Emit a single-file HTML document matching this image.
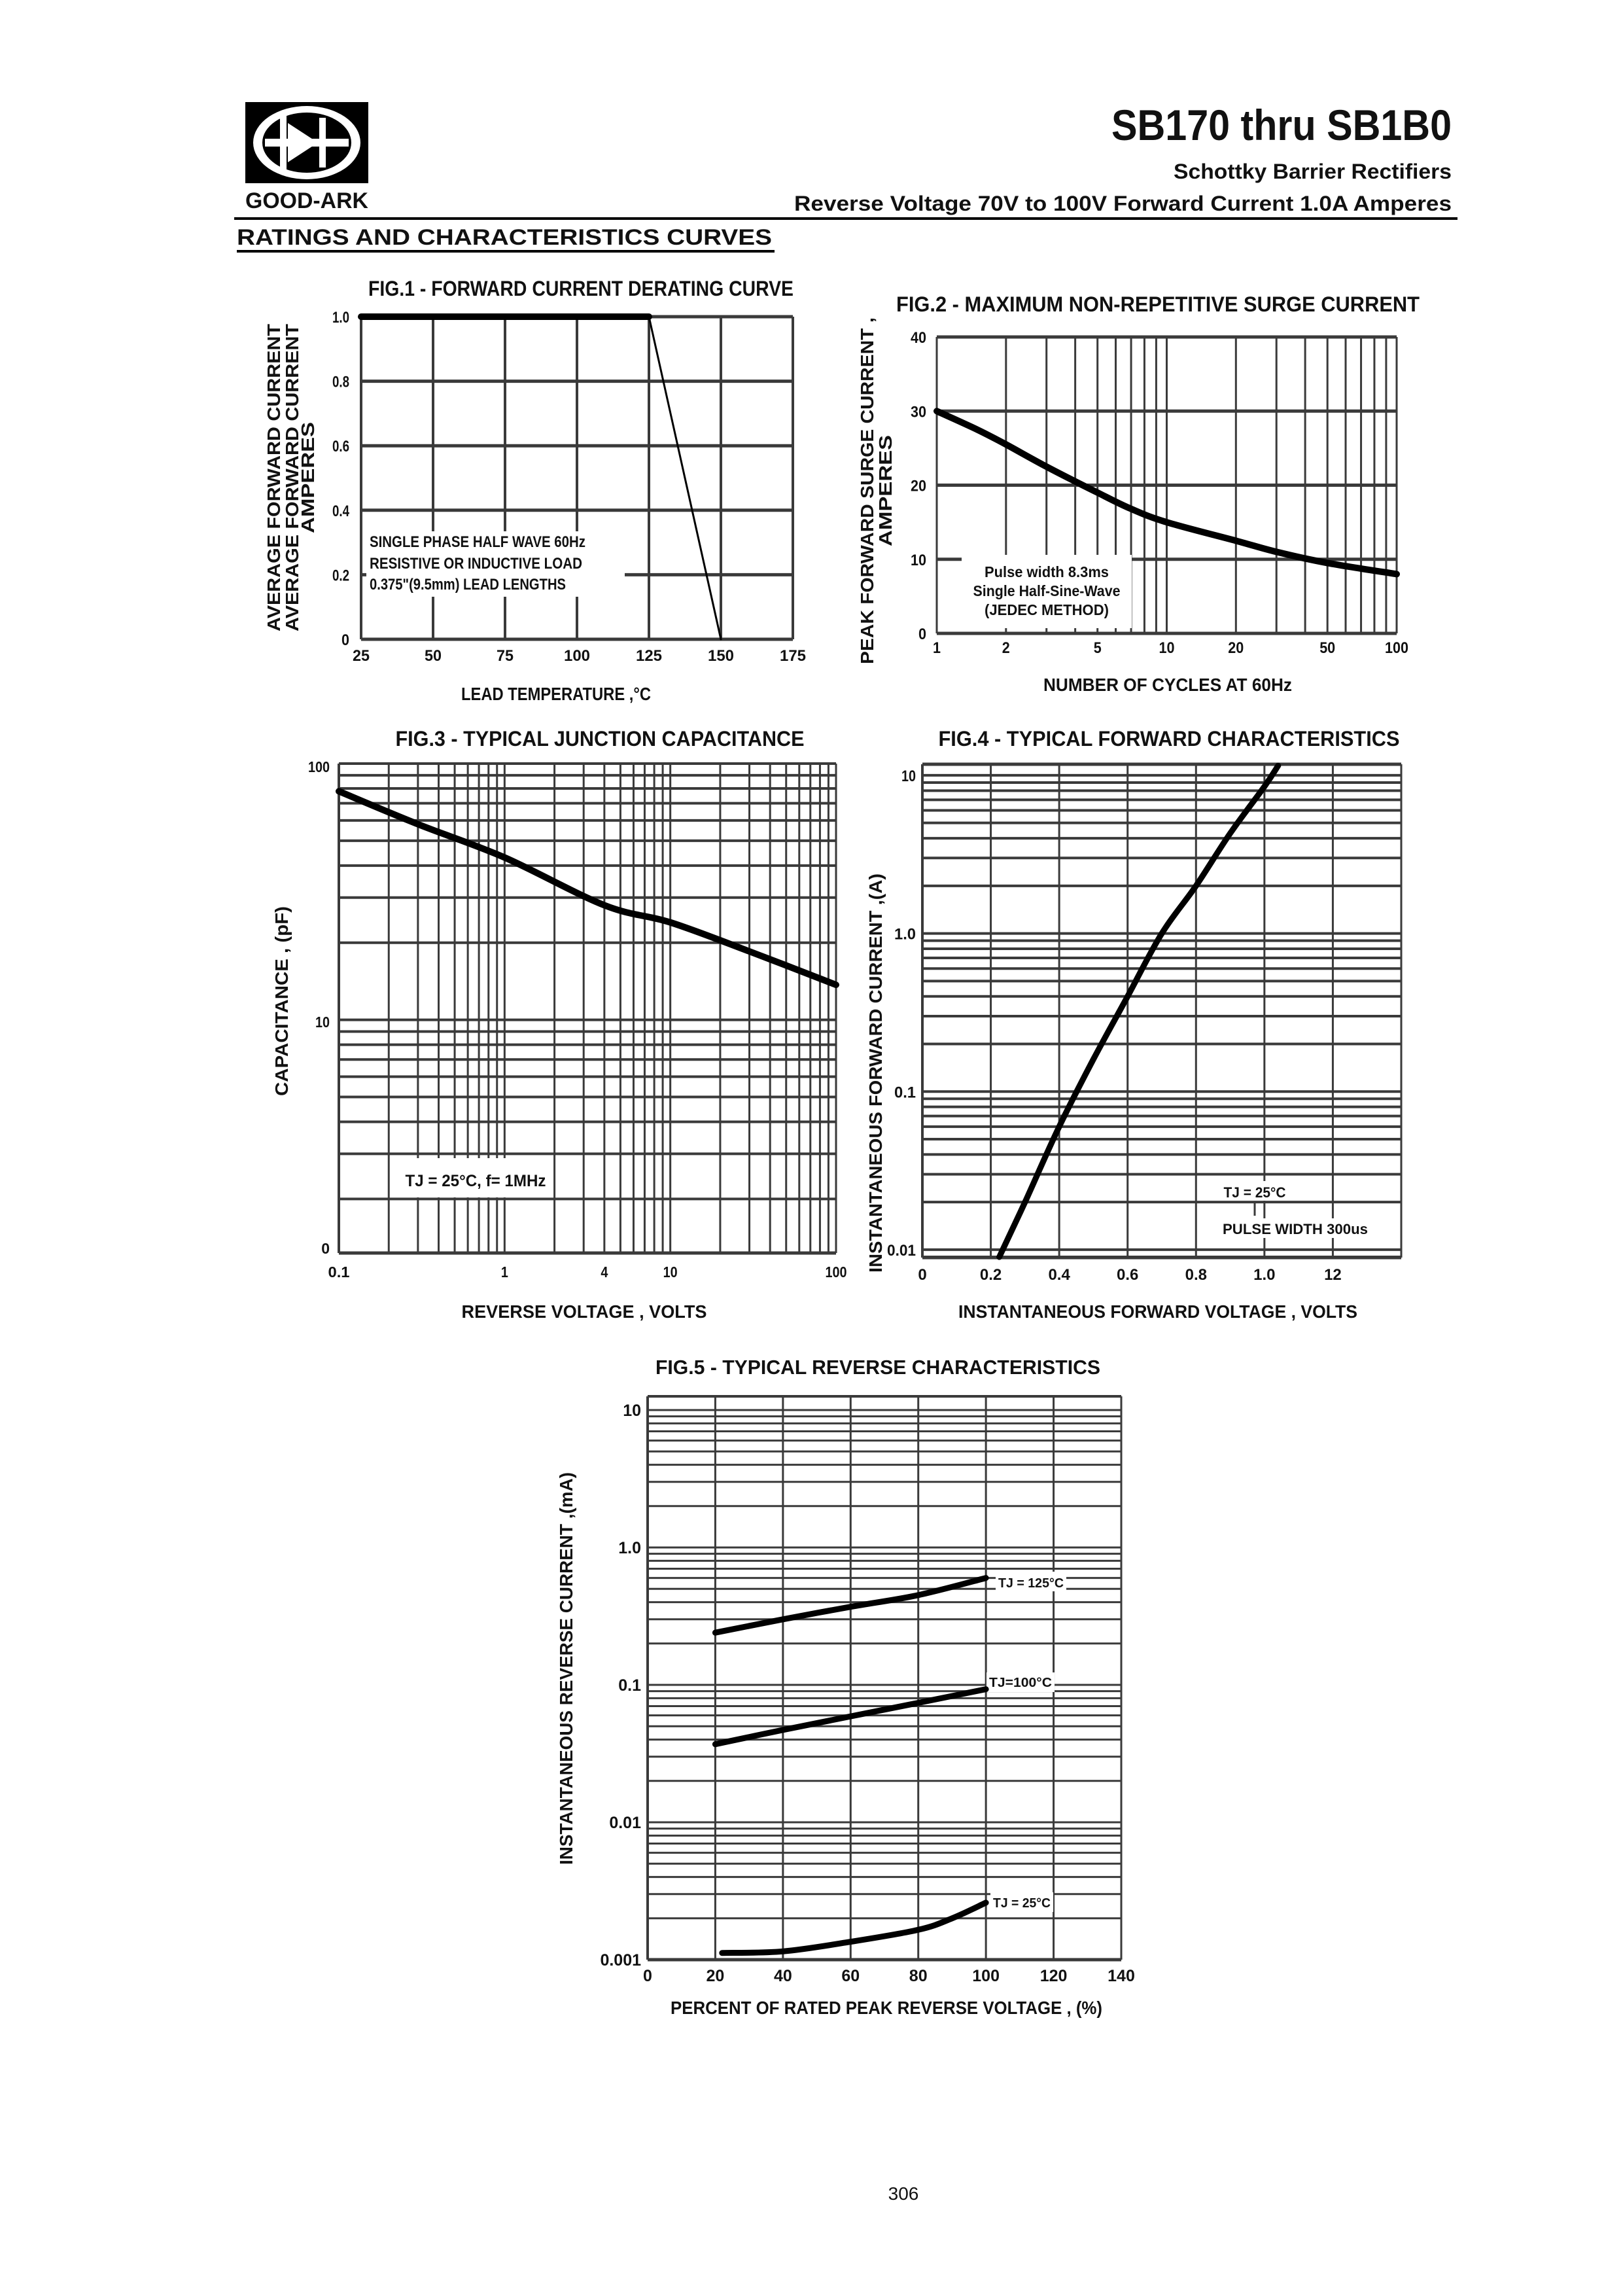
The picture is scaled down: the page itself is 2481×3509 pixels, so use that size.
<!DOCTYPE html>
<html><head><meta charset="utf-8"><style>
html,body{margin:0;padding:0;background:#fff}
svg{display:block}
text{font-family:"Liberation Sans",sans-serif;fill:#111}
</style></head><body>
<svg id="page" xmlns="http://www.w3.org/2000/svg" width="2481" height="3509" viewBox="0 0 2481 3509">
<rect width="2481" height="3509" fill="#fff"/>
<g>
<rect x="375" y="156" width="188" height="124" fill="#000"/>
<ellipse cx="469" cy="218" rx="82" ry="56" fill="#fff"/>
<ellipse cx="469" cy="218" rx="68" ry="46" fill="#000"/>
<rect x="405" y="212" width="128" height="12" fill="#fff"/>
<polygon points="440,188 440,248 486,218" fill="#fff"/>
<rect x="488" y="180" width="10" height="76" fill="#fff"/>
<rect x="428" y="172" width="10" height="92" fill="#fff"/>
</g>
<text x="375" y="318" font-size="34" font-weight="bold" textLength="188" lengthAdjust="spacingAndGlyphs">GOOD-ARK</text>
<text x="2219" y="214" font-size="66" font-weight="bold" text-anchor="end" textLength="520" lengthAdjust="spacingAndGlyphs">SB170 thru SB1B0</text>
<text x="2219" y="273" font-size="32" font-weight="bold" text-anchor="end" textLength="425" lengthAdjust="spacingAndGlyphs">Schottky Barrier Rectifiers</text>
<text x="2219" y="322" font-size="32" font-weight="bold" text-anchor="end" textLength="1005" lengthAdjust="spacingAndGlyphs">Reverse Voltage 70V to 100V   Forward Current 1.0A Amperes</text>
<rect x="358" y="332" width="1870" height="4" fill="#000"/>
<text x="362" y="374" font-size="34" font-weight="bold" textLength="818" lengthAdjust="spacingAndGlyphs">RATINGS AND CHARACTERISTICS CURVES</text>
<rect x="362" y="382" width="822" height="4" fill="#000"/>
<text x="1381" y="3362" font-size="28" text-anchor="middle">306</text>
<g id="charts"></g>
</svg>
<script>
// FIG1 data
const f1Temp=[25,125,150];
const f1Curr=[1.0,1.0,0];
const f1XTicks=[25,50,75,100,125,150,175];
const f1YTicks=[0,0.2,0.4,0.6,0.8,1.0];
const f1YLabels=["0","0.2","0.4","0.6","0.8","1.0"];
// FIG2 data
const f2Cycles=[1,1.5,2,3,5,7,10,20,30,50,100];
const f2Surge=[30,27.5,25.5,22.5,19,16.8,15,12.5,11,9.5,8];
const f2XTicks=[1,2,5,10,20,50,100];
const f2YTicks=[0,10,20,30,40];
// FIG3 data
const f3Volt=[0.1,0.3,1,4,10,30,100];
const f3Cap=[78,58,43,28,24,18.5,13.7];
const f3XTicks=[0.1,1,4,10,100];
// FIG4 data
const f4Volt=[0.225,0.3,0.4,0.5,0.6,0.7,0.8,0.9,1.0,1.04];
const f4Curr=[0.009,0.02,0.06,0.16,0.4,1.0,2.0,4.3,8.5,11.5];
const f4XTicks=[0,0.2,0.4,0.6,0.8,1.0,1.2];
const f4XLabels=["0","0.2","0.4","0.6","0.8","1.0","12"];
const f4YTicks=[0.01,0.1,1,10];
const f4YLabels=["0.01","0.1","1.0","10"];
// FIG5 data
const f5Pct=[20,40,60,80,100];
const f5T125=[0.24,0.3,0.37,0.45,0.6];
const f5T100=[0.037,0.047,0.059,0.074,0.093];
const f5Pct25=[22,40,60,80,90,100];
const f5T25=[0.00112,0.00115,0.00135,0.00165,0.002,0.0026];
const f5XTicks=[0,20,40,60,80,100,120,140];
const f5YTicks=[0.001,0.01,0.1,1,10];
const f5YLabels=["0.001","0.01","0.1","1.0","10"];

const NS="http://www.w3.org/2000/svg";
const root=document.getElementById('charts');
function mk(tag,attrs,parent){const e=document.createElementNS(NS,tag);for(const k in attrs)e.setAttribute(k,attrs[k]);(parent||root).appendChild(e);return e;}
function lin(d0,d1,r0,r1){return v=>r0+(v-d0)/(d1-d0)*(r1-r0);}
function lg(d0,d1,r0,r1){return v=>r0+(Math.log10(v)-Math.log10(d0))/(Math.log10(d1)-Math.log10(d0))*(r1-r0);}
const GRID="#3a3a3a";
function line(g,x1,y1,x2,y2,w,name){const l=mk('line',{x1,y1,x2,y2,stroke:GRID,'stroke-width':w},g);

return l;}
function txt(g,x,y,s,size,name,anchor,extra){const t=mk('text',Object.assign({x,y,'font-size':size,'font-weight':'bold','text-anchor':anchor||'middle'},extra||{}),g);t.textContent=s;

return t;}
function curve(g,xs,ys,X,Y,w,name,smooth){const P=xs.map((v,i)=>[X(v),Y(ys[i])]);let d='M'+P[0][0].toFixed(1)+','+P[0][1].toFixed(1);
for(let i=0;i<P.length-1;i++){if(!smooth){d+='L'+P[i+1][0].toFixed(1)+','+P[i+1][1].toFixed(1);continue;}
const p0=P[i-1]||P[i],p1=P[i],p2=P[i+1],p3=P[i+2]||P[i+1];
const c1=[p1[0]+(p2[0]-p0[0])/6,p1[1]+(p2[1]-p0[1])/6],c2=[p2[0]-(p3[0]-p1[0])/6,p2[1]-(p3[1]-p1[1])/6];
d+=`C${c1[0].toFixed(1)},${c1[1].toFixed(1)} ${c2[0].toFixed(1)},${c2[1].toFixed(1)} ${p2[0].toFixed(1)},${p2[1].toFixed(1)}`;}
const p=mk('path',{d,fill:'none',stroke:'#000','stroke-width':w,'stroke-linejoin':'round','stroke-linecap':'round'},g);

return p;}
function group(name){const g=mk('g',{});

return g;}
function logMinor(d0,d1){const out=[];for(let e=-4;e<=3;e++)for(let m=1;m<=9;m++){const v=m*Math.pow(10,e);if(v>=d0*0.999&&v<=d1*1.001)out.push(v);}return out;}

// ---------- FIG1 ----------
(function(){const g=group('fig1-derating-chart');
const L=552,R=1212,T=484,B=977;
const X=lin(25,175,L,R),Y=lin(0,1,B,T);
f1XTicks.forEach(v=>{line(g,X(v),T,X(v),B,4,'fig1-x-grid');txt(g,X(v),1010,String(v),24,'fig1-x-tick','middle',{textLength:v>=100?40:26,lengthAdjust:'spacingAndGlyphs'});});
f1YTicks.forEach((v,i)=>{line(g,L,Y(v),R,Y(v),5,'fig1-y-grid');txt(g,L-18,Y(v)+9,f1YLabels[i],24,'fig1-y-tick','end',{textLength:f1YLabels[i].length>1?26:12,lengthAdjust:'spacingAndGlyphs'});});
line(g,X(125),Y(0.2),X(125),B,3,'fig1-marker-line');
const r=mk('rect',{x:560,y:812,width:395,height:100,fill:'#fff'},g);


txt(g,565,836,'SINGLE PHASE HALF WAVE 60Hz',24,'fig1-note','start',{textLength:330,lengthAdjust:'spacingAndGlyphs'});
txt(g,565,869,'RESISTIVE OR INDUCTIVE LOAD',24,'fig1-note','start',{textLength:325,lengthAdjust:'spacingAndGlyphs'});
txt(g,565,901,'0.375"(9.5mm) LEAD LENGTHS',24,'fig1-note','start',{textLength:300,lengthAdjust:'spacingAndGlyphs'});
curve(g,f1Temp.slice(0,2),f1Curr.slice(0,2),X,Y,10,'fig1-flat-segment');
curve(g,f1Temp.slice(1),f1Curr.slice(1),X,Y,3,'fig1-derating-segment');
txt(g,888,452,'FIG.1 - FORWARD CURRENT DERATING CURVE',32,'fig1-title','middle',{textLength:650,lengthAdjust:'spacingAndGlyphs'});
txt(g,850,1070,'LEAD TEMPERATURE ,°C',28,'fig1-x-title','middle',{textLength:290,lengthAdjust:'spacingAndGlyphs'});
[['AVERAGE FORWARD CURRENT',428],['AVERAGE FORWARD CURRENT',456],['AMPERES',480]].forEach(([s,x])=>{txt(g,x,730,s,28,'fig1-y-title','middle',{transform:`rotate(-90 ${x} 730)`,textLength:s.length>10?470:170,lengthAdjust:'spacingAndGlyphs'});});
})();

// ---------- FIG2 ----------
(function(){const g=group('fig2-surge-chart');
const L=1432,R=2135,T=515,B=968;
const X=lg(1,100,L,R),Y=lin(0,40,B,T);
logMinor(1,100).forEach(v=>line(g,X(v),T,X(v),B,3,'fig2-x-grid'));
f2XTicks.forEach(v=>txt(g,X(v),998,String(v),24,'fig2-x-tick','middle',{textLength:String(v).length*12,lengthAdjust:'spacingAndGlyphs'}));
f2YTicks.forEach(v=>{line(g,L,Y(v),R,Y(v),5,'fig2-y-grid');txt(g,L-16,Y(v)+9,String(v),24,'fig2-y-tick','end',{textLength:String(v).length*12,lengthAdjust:'spacingAndGlyphs'});});
const r=mk('rect',{x:1470,y:848,width:260,height:112,fill:'#fff'},g);


txt(g,1600,882,'Pulse width 8.3ms',23,'fig2-note','middle',{textLength:190,lengthAdjust:'spacingAndGlyphs'});
txt(g,1600,911,'Single Half-Sine-Wave',23,'fig2-note','middle',{textLength:225,lengthAdjust:'spacingAndGlyphs'});
txt(g,1600,940,'(JEDEC METHOD)',23,'fig2-note','middle',{textLength:190,lengthAdjust:'spacingAndGlyphs'});
curve(g,f2Cycles,f2Surge,X,Y,10,'fig2-surge-curve',true);
txt(g,1770,476,'FIG.2 - MAXIMUM NON-REPETITIVE SURGE CURRENT',32,'fig2-title','middle',{textLength:800,lengthAdjust:'spacingAndGlyphs'});
txt(g,1785,1056,'NUMBER OF CYCLES AT 60Hz',28,'fig2-x-title','middle',{textLength:380,lengthAdjust:'spacingAndGlyphs'});
[['PEAK FORWARD SURGE CURRENT ,',1335,530],['AMPERES',1363,170]].forEach(([s,x,w])=>{txt(g,x,750,s,28,'fig2-y-title','middle',{transform:`rotate(-90 ${x} 750)`,textLength:w,lengthAdjust:'spacingAndGlyphs'});});
})();

// ---------- FIG3 ----------
(function(){const g=group('fig3-capacitance-chart');
const L=518,R=1278,T=1167,B=1915;
const yMin=Math.pow(10,0.09);
const X=lg(0.1,100,L,R),Y=lg(yMin,100,B,T);
logMinor(0.1,100).forEach(v=>line(g,X(v),T,X(v),B,3,'fig3-x-grid'));
logMinor(yMin,100).forEach(v=>line(g,L,Y(v),R,Y(v),4,'fig3-y-grid'));
line(g,L,B,R,B,5,'fig3-x-axis');line(g,L,T,L,B,4,'fig3-y-axis');
f3XTicks.forEach(v=>txt(g,X(v),1952,String(v),23,'fig3-x-tick','middle',{textLength:String(v).length*11,lengthAdjust:'spacingAndGlyphs'}));
[[100,'100',1180],[10,'10',1570]].forEach(([v,s,y])=>txt(g,L-14,y,s,23,'fig3-y-tick','end',{textLength:s.length*11,lengthAdjust:'spacingAndGlyphs'}));
txt(g,L-14,1916,'0',23,'fig3-y-tick','end');
const r=mk('rect',{x:612,y:1770,width:230,height:60,fill:'#fff'},g);


txt(g,727,1813,'TJ = 25°C,  f= 1MHz',25,'fig3-note','middle',{textLength:215,lengthAdjust:'spacingAndGlyphs'});
curve(g,f3Volt,f3Cap,X,Y,10,'fig3-capacitance-curve',true);
txt(g,917,1140,'FIG.3 - TYPICAL JUNCTION CAPACITANCE',32,'fig3-title','middle',{textLength:625,lengthAdjust:'spacingAndGlyphs'});
txt(g,893,2014,'REVERSE VOLTAGE , VOLTS',28,'fig3-x-title','middle',{textLength:375,lengthAdjust:'spacingAndGlyphs'});
txt(g,440,1530,'CAPACITANCE , (pF)',28,'fig3-y-title','middle',{transform:'rotate(-90 440 1530)',textLength:290,lengthAdjust:'spacingAndGlyphs'});
})();

// ---------- FIG4 ----------
(function(){const g=group('fig4-forward-chart');
const L=1410,R=2142,T=1168,B=1922;
const yMin=Math.pow(10,-2.05),yMax=Math.pow(10,1.07);
const X=lin(0,1.4,L,R),Y=lg(yMin,yMax,B,T);
[0.2,0.4,0.6,0.8,1.0,1.2,1.4].forEach(v=>line(g,X(v),T,X(v),B,3,'fig4-x-grid'));
logMinor(yMin,yMax).forEach(v=>line(g,L,Y(v),R,Y(v),4,'fig4-y-grid'));
line(g,L,T,R,T,5,'fig4-top-border');line(g,L,B,R,B,5,'fig4-x-axis');line(g,L,T,L,B,4,'fig4-y-axis');
f4XTicks.forEach((v,i)=>txt(g,X(v),1956,f4XLabels[i],24,'fig4-x-tick','middle'));
f4YTicks.forEach((v,i)=>txt(g,L-10,Y(v)+9,f4YLabels[i],24,'fig4-y-tick','end',{textLength:f4YLabels[i].length*11,lengthAdjust:'spacingAndGlyphs'}));
let r=mk('rect',{x:1868,y:1805,width:100,height:30,fill:'#fff'},g);


r=mk('rect',{x:1866,y:1862,width:228,height:30,fill:'#fff'},g);


txt(g,1918,1830,'TJ = 25°C',22,'fig4-note','middle',{textLength:95,lengthAdjust:'spacingAndGlyphs'});
line(g,1918,1838,1918,1858,3,'fig4-note-tick');
txt(g,1980,1886,'PULSE WIDTH 300us',22,'fig4-note','middle',{textLength:222,lengthAdjust:'spacingAndGlyphs'});
curve(g,f4Volt,f4Curr,X,Y,9,'fig4-forward-curve',true);
txt(g,1787,1140,'FIG.4 - TYPICAL FORWARD CHARACTERISTICS',32,'fig4-title','middle',{textLength:705,lengthAdjust:'spacingAndGlyphs'});
txt(g,1770,2014,'INSTANTANEOUS FORWARD VOLTAGE , VOLTS',28,'fig4-x-title','middle',{textLength:610,lengthAdjust:'spacingAndGlyphs'});
txt(g,1348,1640,'INSTANTANEOUS  FORWARD CURRENT ,(A)',28,'fig4-y-title','middle',{transform:'rotate(-90 1348 1640)',textLength:610,lengthAdjust:'spacingAndGlyphs'});
})();

// ---------- FIG5 ----------
(function(){const g=group('fig5-reverse-chart');
const L=990,R=1714,T=2134,B=2995;
const yMax=Math.pow(10,1.1);
const X=lin(0,140,L,R),Y=lg(0.001,yMax,B,T);
[20,40,60,80,100,120,140].forEach(v=>line(g,X(v),T,X(v),B,3,'fig5-x-grid'));
logMinor(0.001,yMax).forEach(v=>line(g,L,Y(v),R,Y(v),3,'fig5-y-grid'));
line(g,L,T,R,T,4,'fig5-top-border');line(g,L,B,R,B,5,'fig5-x-axis');line(g,L,T,L,B,4,'fig5-y-axis');
f5XTicks.forEach(v=>txt(g,X(v),3028,String(v),25,'fig5-x-tick','middle'));
f5YTicks.forEach((v,i)=>txt(g,L-10,Y(v)+9,f5YLabels[i],25,'fig5-y-tick','end'));
[['TJ = 125°C',1576,2426,100,2402],['TJ=100°C',1560,2578,96,2556],['TJ = 25°C',1562,2915,88,2892]].forEach(([s,x,y,w,by])=>{
const rr=mk('rect',{x:x-w/2-4,y:by,width:w+8,height:30,fill:'#fff'},g);


txt(g,x,y,s,20,'fig5-series-label','middle',{textLength:w,lengthAdjust:'spacingAndGlyphs'});});
curve(g,f5Pct,f5T125,X,Y,9,'fig5-curve-125c',true);
curve(g,f5Pct,f5T100,X,Y,9,'fig5-curve-100c',true);
curve(g,f5Pct25,f5T25,X,Y,9,'fig5-curve-25c',true);
txt(g,1342,2100,'FIG.5 - TYPICAL REVERSE CHARACTERISTICS',31,'fig5-title','middle',{textLength:680,lengthAdjust:'spacingAndGlyphs'});
txt(g,1355,3078,'PERCENT OF RATED PEAK REVERSE VOLTAGE , (%)',28,'fig5-x-title','middle',{textLength:660,lengthAdjust:'spacingAndGlyphs'});
txt(g,875,2550,'INSTANTANEOUS  REVERSE CURRENT ,(mA)',28,'fig5-y-title','middle',{transform:'rotate(-90 875 2550)',textLength:600,lengthAdjust:'spacingAndGlyphs'});
})();
</script>
</body></html>
